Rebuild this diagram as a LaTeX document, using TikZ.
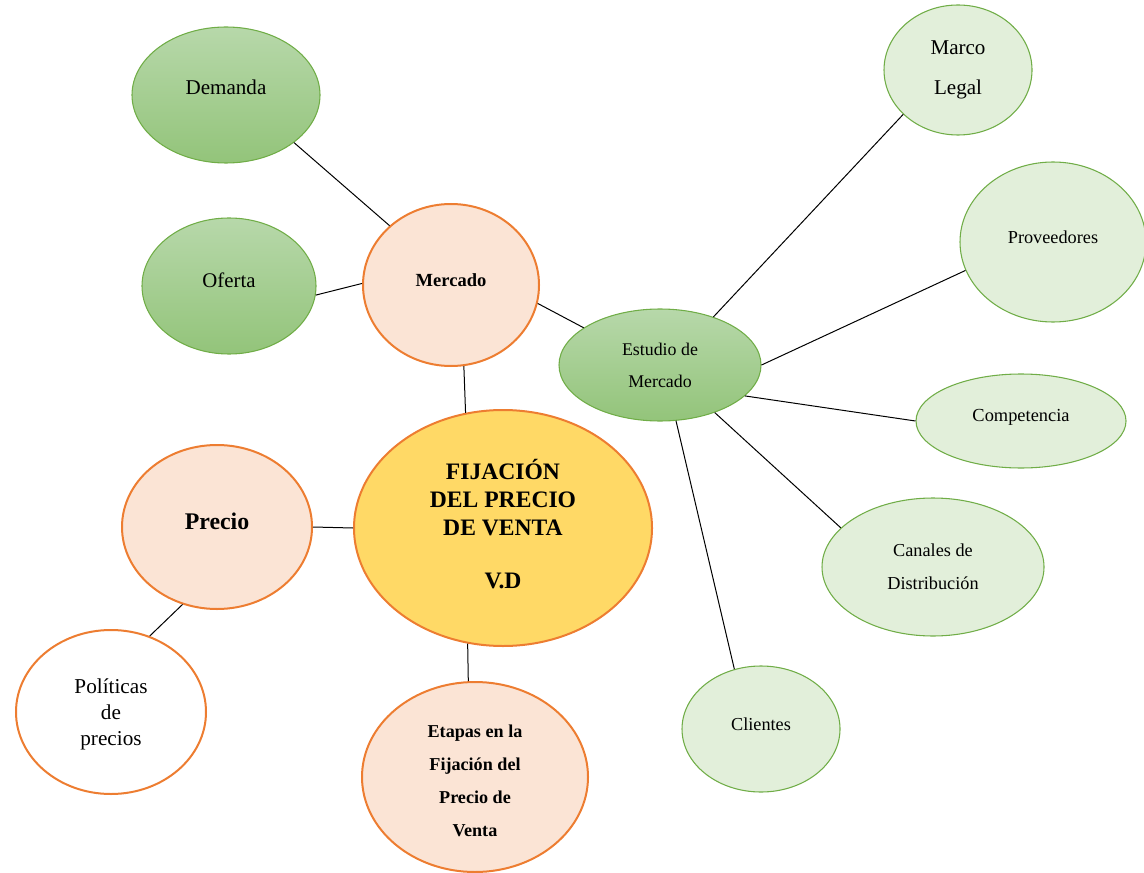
\documentclass[tikz,border=0pt]{standalone}
\usepackage{fontspec}
\setmainfont{Liberation Serif}
\usetikzlibrary{shapes.geometric}

\definecolor{leafgreen}{HTML}{70AD47}
\definecolor{greentop}{HTML}{B7D8AA}
\definecolor{greenbot}{HTML}{93C47A}
\definecolor{palegreen}{HTML}{E2EFDA}
\definecolor{orangeline}{HTML}{ED7D31}
\definecolor{peach}{HTML}{FBE4D5}
\definecolor{gold}{HTML}{FFD966}

\tikzset{
  bubble/.style={ellipse, inner sep=0pt, align=center, text=black},
  darkgreen/.style={bubble, draw=leafgreen, line width=0.8pt,
    top color=greentop, bottom color=greenbot},
  lightgreen/.style={bubble, draw=leafgreen, line width=0.8pt, fill=palegreen},
  peachbub/.style={bubble, draw=orangeline, line width=1.5pt, fill=peach},
  whitebub/.style={bubble, draw=orangeline, line width=1.5pt, fill=white},
  goldbub/.style={bubble, draw=orangeline, line width=1.5pt, fill=gold},
  link/.style={draw=black, line width=0.75pt},
  sz/.style 2 args={minimum width=#1*1.5pt, minimum height=#2*1.5pt},
}

\begin{document}
\begin{tikzpicture}[x=0.75pt,y=-0.75pt]
\useasboundingbox (0,0) rectangle (1144,873);

% left cluster
\node[darkgreen, sz={94}{68}, text depth=12pt, font=\fontsize{15.8}{30}\selectfont] (dem) at (226,95) {Demanda};
\node[darkgreen, sz={87}{68}, text depth=9pt, font=\fontsize{15.6}{30}\selectfont] (ofe) at (229,286) {Oferta};
\node[peachbub, sz={88}{81}, text depth=7.5pt, font=\bfseries\fontsize{13.9}{20}\selectfont] (mer) at (451,285) {Mercado};

% market study cluster
\node[darkgreen, sz={101}{56}, font=\fontsize{13.4}{24}\selectfont] (est) at (660,365) {Estudio de\\Mercado};
\node[lightgreen, sz={74}{65}, font=\fontsize{15.8}{30}\selectfont] (mar) at (958,70) {Marco\\Legal};
\node[lightgreen, sz={93}{80}, text depth=7.5pt, font=\fontsize{13.7}{24}\selectfont] (pro) at (1053,242) {Proveedores};
\node[lightgreen, sz={105}{47}, text depth=9pt, font=\fontsize{13.8}{24}\selectfont] (com) at (1021,421) {Competencia};
\node[lightgreen, sz={111}{69}, font=\fontsize{13.7}{25}\selectfont] (can) at (933,567) {Canales de\\Distribución};
\node[lightgreen, sz={79}{63}, text depth=7.5pt, font=\fontsize{13.7}{24}\selectfont] (cli) at (761,729) {Clientes};

% central topic and price branch
\node[goldbub, sz={149}{118}, text depth=6pt, font=\bfseries\fontsize{17.7}{21}\selectfont] (fij) at (503,528)
  {FIJACIÓN\\DEL PRECIO\\DE VENTA\\[19pt]V.D};
\node[peachbub, sz={95}{82}, text depth=9pt, font=\bfseries\fontsize{17.9}{24}\selectfont] (pre) at (217,527) {Precio};
\node[whitebub, sz={95}{82}, text height=53pt, font=\fontsize{15.9}{19.2}\selectfont] (pol) at (111,712) {Políticas\\de\\precios};
\node[peachbub, sz={113}{95}, text height=90pt, font=\bfseries\fontsize{13.6}{24.8}\selectfont] (eta) at (475,777)
  {Etapas en la\\Fijación del\\Precio de\\Venta};

% connectors
\draw[link] (dem.-35.6) -- (mer.136.9);
\draw[link] (ofe.-6.6) -- (mer.179.3);
\draw[link] (mer.-12.2) -- (est.154);
\draw[link] (mer.-81.7) -- (fij.108.4);
\draw[link] (est.42.8) -- (mar.219.6);
\draw[link] (est.0) -- (pro.198.2);
\draw[link] (est.-20.6) -- (com.180);
\draw[link] (est.-41.5) -- (can.157.6);
\draw[link] (est.-74.6) -- (cli.114);
\draw[link] (fij.180) -- (pre.0);
\draw[link] (pre.-114.4) -- (pol.63.7);
\draw[link] (fij.-107.8) -- (eta.94.9);
\end{tikzpicture}
\end{document}
